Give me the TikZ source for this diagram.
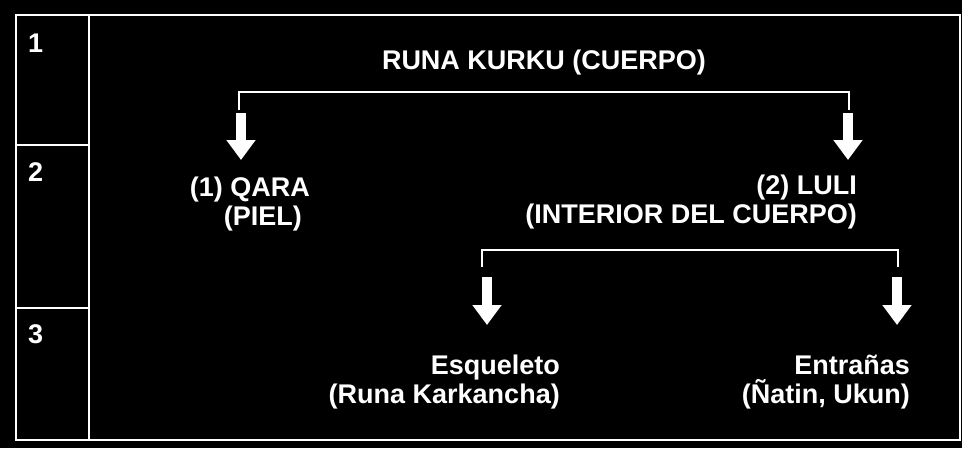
\documentclass[tikz,border=0pt]{standalone}
\usepackage{fontspec}
\setmainfont{Liberation Sans}
\usetikzlibrary{arrows.meta,positioning}
\tikzset{
    outerframe/.style = {draw=white, line width=2pt},
    divider/.style = {draw=white, line width=1.5pt},
    txt/.style = {text=white, inner sep=0pt,
        font=\bfseries\fontsize{27}{29}\selectfont},
    term/.style = {txt, align=right, anchor=north east},
    bracket/.style = {draw=white, line width=1.6pt},
    bigarrow/.style = {draw=white, line width=10.5pt,
        -{Triangle[width=28pt,length=20pt]}}
}

\begin{document}
\begin{tikzpicture}[x=1pt,y=-1pt]
  \fill[black] (0,0) rectangle (962,448);
  \useasboundingbox (0,0) rectangle (962,448);
  % levels
  \draw[outerframe] (16,15) rectangle (960,440);
  \draw[divider] (89,15) -- (89,440);
  \draw[divider] (16,145) -- (89,145);
  \draw[divider] (16,308) -- (89,308);
  \foreach \n/\y in {1/34,2/162,3/324}
    \node[txt,anchor=north west] (lvl\n) at (28,\y) {\n};
  % level 1
  \node[txt,anchor=base] (runa) at (544,69) {RUNA KURKU (CUERPO)};
  \coordinate (r0) at (239,110);
  \coordinate (r1) at (849,110);
  \draw[bracket] (r0) -- ++(0,-18) -| (r1);
  \draw[bigarrow] (r0) ++(2,3) -- ++(0,47);
  \draw[bigarrow] (r1) ++(-1,3) -- ++(0,47);
  % level 2
  \node[term] (qara) at (310,177) {(1) QARA\\(PIEL)\hspace*{8pt}};
  \node[term] (luli) at (857,175) {(2) LULI\\(INTERIOR DEL CUERPO)};
  \coordinate (l0) at (482,267);
  \coordinate (l1) at (898,267);
  \draw[bracket] (l0) -- ++(0,-17) -| (l1);
  \draw[bigarrow] (l0) ++(5,10) -- ++(0,48);
  \draw[bigarrow] (l1) ++(-1,10) -- ++(0,48);
  % level 3
  \node[term] (esq) at (560,355) {Esqueleto\\(Runa Karkancha)};
  \node[term] (entr) at (910,355) {Entrañas\\(Ñatin, Ukun)};
\end{tikzpicture}
\end{document}
